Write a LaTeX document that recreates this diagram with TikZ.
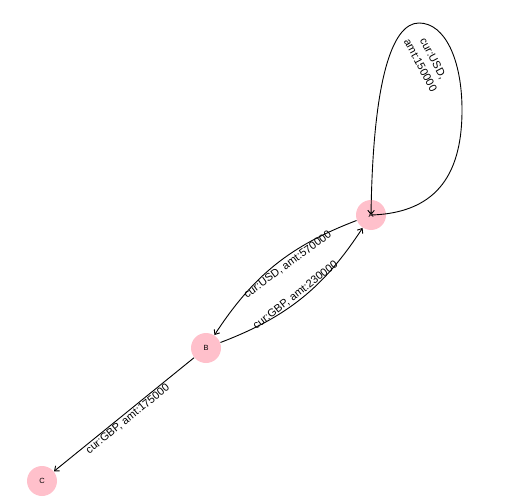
\documentclass[tikz,border=0pt]{standalone}
\usepackage{fontspec}
\setmainfont{Liberation Sans}
\usetikzlibrary{positioning,arrows.meta}
\definecolor{nodepink}{RGB}{255,192,203}
\tikzset{
	>={Straight Barb[length=4bp,width=6.5bp]},
	vertex/.style={circle, fill=nodepink, minimum size=30bp, inner sep=0pt, font=\fontsize{7.5}{9}\selectfont},
	lbl/.style={font=\fontsize{11}{14.5}\selectfont, inner sep=1pt},
}

\begin{document}
\begin{tikzpicture}[x=1bp,y=-1bp,line width=0.9bp]
			\useasboundingbox (0,0) rectangle (504,504);
			\node[vertex] (A) at (371,215) {A};
			\node[vertex] (B) at (206,348) {B};
			\node[vertex] (C) at (42,481) {C};
			\draw[->] (A) to[bend right=18] node[lbl, sloped, below, pos=0.44, inner sep=2.5pt] {cur:USD, amt:570000} (B);
			\draw[->] (B) to[bend right=18] node[lbl, sloped, above, pos=0.48] {cur:GBP, amt:230000} (A);
			\draw[->] (B) -- node[lbl, sloped, below] {cur:GBP, amt:175000} (C);
			\draw[->] (A.center) .. controls (440,213) and (462,170) .. (462,110) .. controls (462,60) and (445,23) .. (419,23) .. controls (392,23) and (373,80) .. (A.center);
			\node[lbl, rotate=-62, align=center] (loopA) at (427,62) {cur:USD,\\amt:150000};
		\end{tikzpicture}
\end{document}
